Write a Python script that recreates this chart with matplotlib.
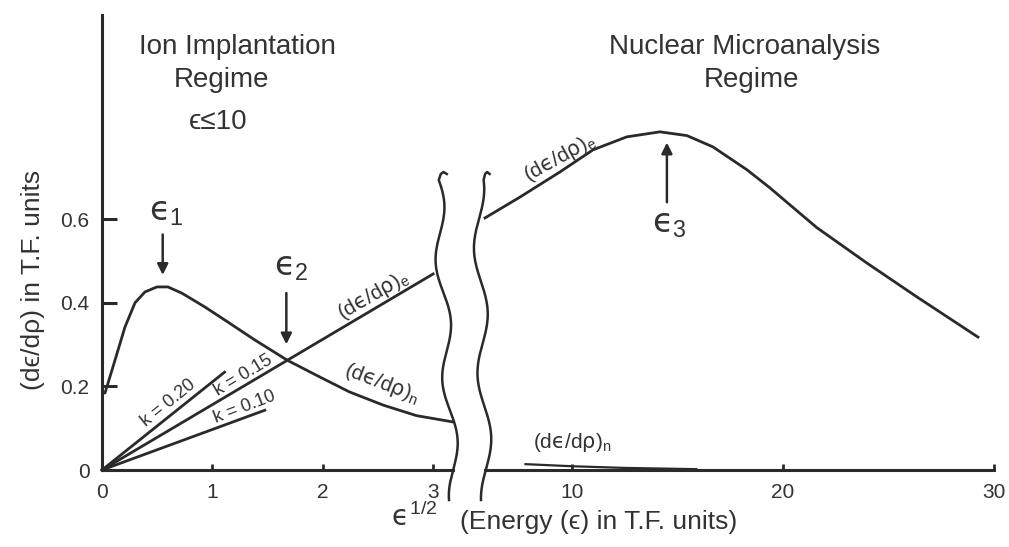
import numpy as np
import matplotlib
matplotlib.use('Agg')
import matplotlib.pyplot as plt
from matplotlib.lines import Line2D

W, H, DPI = 1009, 547, 100
INK = '#2a2a2a'
FONT = ['Liberation Sans', 'DejaVu Sans']

plt.rcParams['font.family'] = FONT
plt.rcParams['mathtext.fontset'] = 'custom'
plt.rcParams['mathtext.rm'] = 'Liberation Sans'
plt.rcParams['mathtext.it'] = 'DejaVu Sans'  # greek letters in math come from here
plt.rcParams['mathtext.sf'] = 'Liberation Sans'
plt.rcParams['mathtext.fallback'] = 'stixsans'

# ---- left panel: x axis is eps^(1/2) ----
nuc_x = [0.027, 0.118, 0.208, 0.299, 0.389, 0.498, 0.597, 0.724, 0.932, 1.14, 1.385,
         1.683, 1.97, 2.24, 2.55, 2.85, 3.18]
nuc_y = [0.184, 0.263, 0.342, 0.40, 0.426, 0.438, 0.438, 0.423, 0.39, 0.354, 0.311,
         0.262, 0.223, 0.187, 0.155, 0.13, 0.115]

# electronic stopping straight lines (k values), from origin to end point
k_labels = ['k = 0.20', 'k = 0.15', 'k = 0.10']
k_end_x = [1.11, 3.0, 1.475]
k_end_y = [0.234, 0.469, 0.143]

# ---- right panel: x axis is energy eps ----
el_x = [5.88, 7.54, 9.43, 11.0, 12.6, 14.17, 15.45, 16.68, 18.3, 19.38, 21.6, 23.98, 26.35, 29.24]
el_y = [0.603, 0.653, 0.713, 0.766, 0.797, 0.809, 0.80, 0.773, 0.718, 0.675, 0.58, 0.495, 0.414, 0.318]
nuc_hi_x = [7.8, 10.0, 12.5, 15.9]
nuc_hi_y = [0.014, 0.009, 0.005, 0.002]

left_ticks = [0, 1, 2, 3]
right_ticks = [10, 20, 30]
y_ticks = [0, 0.2, 0.4, 0.6]
y_ticklabels = ['0', '0.2', '0.4', '0.6']

EPS = '\u03f5'


def fx(px):
    return px / W


def fy(py):
    return 1 - py / H


fig = plt.figure(figsize=(W / DPI, H / DPI), dpi=DPI)
fig.patch.set_facecolor('white')

# axes placement in pixels
y0_px, ytop_px = 470, 15
ppu = 418.0  # pixels per y unit
ymax = (y0_px - ytop_px) / ppu

axL = fig.add_axes([fx(102), fy(y0_px), fx(453) - fx(102), (y0_px - ytop_px) / H])
axR = fig.add_axes([fx(485), fy(y0_px), fx(994) - fx(485), (y0_px - ytop_px) / H])

for ax in (axL, axR):
    ax.set_ylim(0, ymax)
    ax.set_facecolor('none')
    for s in ('top', 'right'):
        ax.spines[s].set_visible(False)
    ax.spines['bottom'].set_linewidth(2.2)
    ax.spines['bottom'].set_color(INK)
    ax.tick_params(axis='x', direction='in', length=4, width=2, color=INK,
                   labelsize=15, labelcolor='#333333', pad=9)

axL.set_xlim(0, 3.18)
axL.set_xticks(left_ticks)
axL.set_xticklabels([str(t) for t in left_ticks])
axL.spines['left'].set_linewidth(2.2)
axL.spines['left'].set_color(INK)
axL.set_yticks(y_ticks)
axL.set_yticklabels(y_ticklabels)
axL.tick_params(axis='y', direction='in', length=11, width=2.2, color=INK,
                labelsize=15, labelcolor='#333333', pad=9)

axR.set_xlim(5.88, 30.0)
axR.set_xticks(right_ticks)
axR.set_xticklabels([str(t) for t in right_ticks])
axR.spines['left'].set_visible(False)
axR.set_yticks([])

lw = 2.0
axL.plot(nuc_x, nuc_y, color=INK, lw=lw, clip_on=False, solid_capstyle='round',
         solid_joinstyle='round')
for ex, ey in zip(k_end_x, k_end_y):
    axL.plot([0, ex], [0, ey], color=INK, lw=lw, clip_on=False)

axR.plot(el_x, el_y, color=INK, lw=lw, clip_on=False, solid_joinstyle='round')
axR.plot(nuc_hi_x, nuc_hi_y, color=INK, lw=1.6, clip_on=False)

# arrows for eps1, eps2, eps3
arrow = dict(arrowstyle='-|>', color=INK, lw=1.8, mutation_scale=16)
axL.annotate('', xy=(0.55, 0.46), xytext=(0.55, 0.57), arrowprops=arrow)
axL.annotate('', xy=(1.67, 0.294), xytext=(1.67, 0.43), arrowprops=arrow)
axR.annotate('', xy=(14.5, 0.79), xytext=(14.5, 0.634), arrowprops=arrow)

txt = dict(color='#333333', ha='center', va='center')
fig.text(fx(166), fy(213), '$' + EPS + r'_\mathrm{1}$', fontsize=24, **txt)
fig.text(fx(291), fy(268), '$' + EPS + r'_\mathrm{2}$', fontsize=24, **txt)
fig.text(fx(669), fy(225), '$' + EPS + r'_\mathrm{3}$', fontsize=24, **txt)

lab_e = r'$\mathrm{(d}' + EPS + r'\mathrm{/d}' + '\u03c1' + r'\mathrm{)}_\mathrm{e}$'
lab_n = r'$\mathrm{(d}' + EPS + r'\mathrm{/d}' + '\u03c1' + r'\mathrm{)}_\mathrm{n}$'
fig.text(fx(373), fy(295), lab_e, fontsize=15, rotation=30, rotation_mode='anchor', **txt)
fig.text(fx(382), fy(383), lab_n, fontsize=15, rotation=-21, rotation_mode='anchor', **txt)
fig.text(fx(560), fy(158), lab_e, fontsize=15, rotation=29, rotation_mode='anchor', **txt)
fig.text(fx(572), fy(443), lab_n, fontsize=15, **txt)

k_pos = [(168, 403, 39), (243, 376, 31), (245, 407, 21)]
for lab, (px, py, rot) in zip(k_labels, k_pos):
    fig.text(fx(px), fy(py), lab, fontsize=13, rotation=rot, rotation_mode='anchor', **txt)

# regime titles
fig.text(fx(237), fy(47), 'Ion Implantation', fontsize=20, **txt)
fig.text(fx(222), fy(80), 'Regime', fontsize=20, **txt)
fig.text(fx(218), fy(122), EPS + '\u226410', fontsize=20, **txt)
fig.text(fx(745), fy(47), 'Nuclear Microanalysis', fontsize=20, **txt)
fig.text(fx(752), fy(80), 'Regime', fontsize=20, **txt)

# axis labels
fig.text(fx(33), fy(280), '(d' + EPS + '/d\u03c1) in T.F. units', fontsize=19,
         rotation=90, **txt)
fig.text(fx(414), fy(517), '$' + EPS + r'^\mathrm{1/2}$', fontsize=20, **txt)
fig.text(fx(599), fy(522), '(Energy (' + EPS + ') in T.F. units)', fontsize=19, **txt)


# wavy axis-break lines
def wavy(x_start, x_end, amp, period, phase, hook):
    ys = np.linspace(180, 500, 200)
    t = (ys - 180) / (500 - 180)
    xs = x_start + (x_end - x_start) * t + amp * np.sin(2 * np.pi * (ys - 180) / period + phase)
    # small hook at the top
    hx = xs[0] + hook * np.array([1.0, 0.6, 0.25, 0.0])
    hy = ys[0] + np.array([-6, -8, -6, 0])
    xs = np.concatenate([hx[:-1], xs])
    ys = np.concatenate([hy[:-1], ys])
    return xs, ys


for params in [(437, 455, 6, 118, 0.3, 8), (478, 487, 6, 125, 1.2, 6)]:
    xs, ys = wavy(*params)
    fig.add_artist(Line2D(xs / W, 1 - ys / H, transform=fig.transFigure,
                          color=INK, lw=1.8))

fig.savefig('out.png', dpi=DPI, facecolor='white')
